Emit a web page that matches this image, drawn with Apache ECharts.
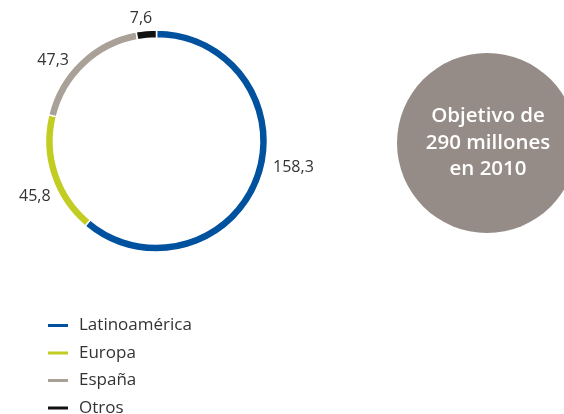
<!DOCTYPE html>
<html>
<head>
<meta charset="utf-8">
<script src="https://cdn.jsdelivr.net/npm/echarts@6/dist/echarts.min.js"></script>
<style>
html,body{margin:0;padding:0;background:#fff;}
#c{width:564px;height:414px;}
</style>
</head>
<body>
<div id="c"></div>
<script>
const categories = ['Latinoamérica', 'Europa', 'España', 'Otros'];
const values = [158.3, 45.8, 47.3, 7.6];
const labelTexts = ['158,3', '45,8', '47,3', '7,6'];
const colors = ['#00529f', '#c2cd23', '#a9a097', '#111111'];
const noteLines = ['Objetivo de', '290 millones', 'en 2010'];

const chart = echarts.init(document.getElementById('c'));
const fontFamily = '"Open Sans", "Liberation Sans", sans-serif';
// small hand-tuned nudges so the value labels sit where the reference puts them
const labelNudge = [[-4, -16], [16, 17], [2, 9], [12, 0]];

chart.setOption({
  animation: false,
  color: colors,
  legend: {
    orient: 'vertical',
    left: 46,
    top: 317,
    height: 200,
    padding: 0,
    data: categories,
    icon: 'rect',
    itemWidth: 22,
    itemHeight: 5,
    itemGap: 10.5,
    textStyle: { fontFamily: fontFamily, fontSize: 17, lineHeight: 17, color: '#333', padding: [0, 0, 0, 5] }
  },
  graphic: [
    {
      type: 'circle',
      shape: { cx: 487, cy: 143, r: 90 },
      style: { fill: '#958c87' },
      z: 1
    },
    {
      type: 'text',
      x: 488,
      y: 143,
      style: {
        text: noteLines.join('\n'),
        fill: '#fff',
        font: '600 20.5px ' + fontFamily,
        lineHeight: 26.5,
        align: 'center',
        verticalAlign: 'middle'
      },
      z: 2
    }
  ],
  series: [{
    type: 'pie',
    center: [156.5, 141],
    radius: [103, 111],
    startAngle: 90,
    clockwise: true,
    avoidLabelOverlap: false,
    itemStyle: { borderColor: '#fff', borderWidth: 1.5 },
    label: {
      show: true,
      position: 'outside',
      fontFamily: fontFamily,
      fontSize: 16,
      color: '#333',
      formatter: p => labelTexts[p.dataIndex]
    },
    labelLine: { show: false, length: 12, length2: 0 },
    labelLayout: p => ({ dx: labelNudge[p.dataIndex][0], dy: labelNudge[p.dataIndex][1] }),
    data: categories.map((c, i) => ({ name: c, value: values[i] }))
  }]
});
</script>
</body>
</html>
